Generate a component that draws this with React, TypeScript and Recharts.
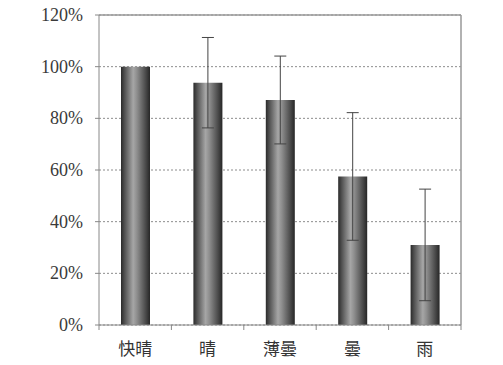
import { BarChart, Bar, XAxis, YAxis, CartesianGrid, ErrorBar } from 'recharts';

const categories = ['快晴', '晴', '薄曇', '曇', '雨'];
const values = [1.0, 0.938, 0.871, 0.575, 0.31];
const errors = [0, 0.175, 0.17, 0.247, 0.216];
const yTicks = [0, 0.2, 0.4, 0.6, 0.8, 1.0, 1.2];

const data = categories.map((name, i) => ({ name, value: values[i], err: errors[i] }));

// category label plus the small tick marks on the band boundaries
const XTick = (props: any) => {
  const { x, y, payload, index } = props;
  const half = payload.offset || 0;
  return (
    <g>
      <line x1={x - half} x2={x - half} y1={y} y2={y + 5} stroke="#888" />
      {index === categories.length - 1 && (
        <line x1={x + half} x2={x + half} y1={y} y2={y + 5} stroke="#888" />
      )}
      <text
        x={x}
        y={y + 30}
        textAnchor="middle"
        fill="#333"
        style={{ fontSize: 17, fontFamily: '"Noto Sans CJK JP", sans-serif' }}
      >
        {payload.value}
      </text>
    </g>
  );
};

const YTick = (props: any) => {
  const { x, y, payload } = props;
  return (
    <text
      x={x}
      y={y}
      dy={6}
      textAnchor="end"
      fill="#3a3a3a"
      style={{ fontSize: 18, fontFamily: '"Liberation Serif", "DejaVu Serif", serif' }}
    >
      {`${Math.round(payload.value * 100)}%`}
    </text>
  );
};

export default function App() {
  return (
    <div style={{ position: 'absolute', left: 0, top: 0, width: 503, height: 365, background: '#fff' }}>
      <BarChart width={503} height={365} data={data} margin={{ top: 15, right: 42, bottom: 0, left: 0 }}>
        <defs>
          {/* cylinder-like shading of the bars */}
          <linearGradient id="barShade" x1="0" y1="0" x2="1" y2="0">
            <stop offset="0%" stopColor="#2a2a2a" />
            <stop offset="12%" stopColor="#505050" />
            <stop offset="42%" stopColor="#a6a6a6" />
            <stop offset="55%" stopColor="#8e8e8e" />
            <stop offset="85%" stopColor="#4a4a4a" />
            <stop offset="100%" stopColor="#262626" />
          </linearGradient>
        </defs>
        <CartesianGrid vertical={false} stroke="#8c8c8c" strokeDasharray="2 2" />
        {/* solid frame on top and right */}
        <CartesianGrid
          stroke="#999"
          strokeWidth={1.5}
          horizontalCoordinatesGenerator={({ offset }: any) => [offset.top]}
          verticalCoordinatesGenerator={({ offset }: any) => [offset.left + offset.width]}
        />
        <XAxis
          dataKey="name"
          height={40}
          axisLine={{ stroke: '#888' }}
          tickLine={false}
          tickSize={0}
          tickMargin={0}
          tick={<XTick />}
        />
        <YAxis
          width={99}
          domain={[0, 1.2]}
          ticks={yTicks}
          interval={0}
          tickSize={4}
          tickMargin={12}
          axisLine={{ stroke: '#888' }}
          tickLine={{ stroke: '#888' }}
          tick={<YTick />}
        />
        <Bar dataKey="value" fill="url(#barShade)" barSize={29} isAnimationActive={false}>
          <ErrorBar dataKey="err" width={6} stroke="#444" strokeWidth={1} direction="y" />
        </Bar>
      </BarChart>
    </div>
  );
}
